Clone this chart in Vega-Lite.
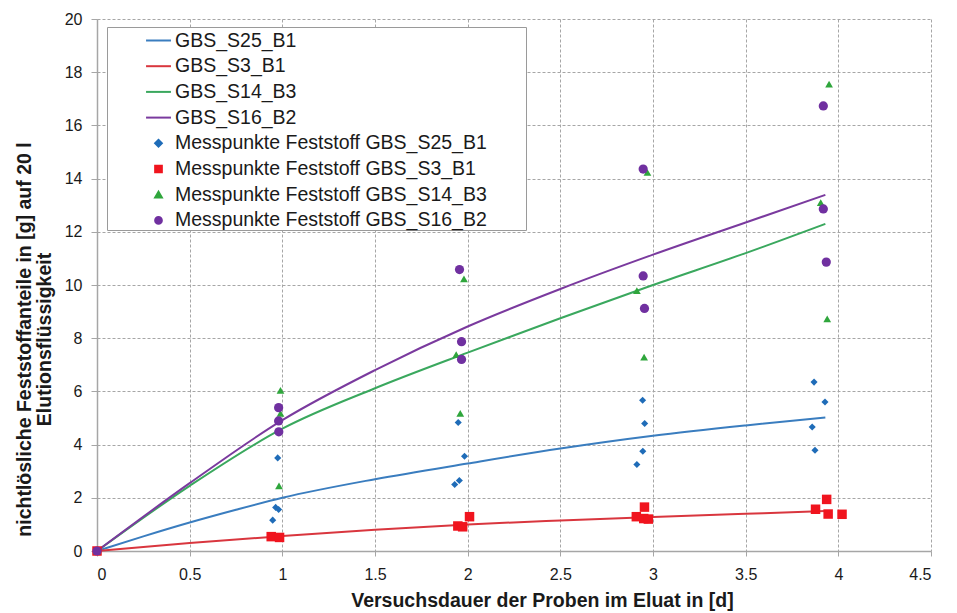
{
  "$schema": "https://vega.github.io/schema/vega-lite/v6.json",
  "width": 834,
  "height": 532,
  "autosize": {"type": "none"},
  "padding": {"left": 97, "top": 19, "right": 26, "bottom": 62},
  "background": "white",
  "config": {
    "view": {"stroke": null},
    "font": "Liberation Sans",
    "axis": {
      "grid": true,
      "gridDash": [3, 2],
      "gridColor": "#A6A6A6",
      "gridWidth": 1,
      "domainColor": "#A6A6A6",
      "domainWidth": 1.5,
      "tickColor": "#A6A6A6",
      "labelFont": "Liberation Sans",
      "labelFontSize": 16,
      "labelColor": "#1a1a1a",
      "titleFont": "Liberation Sans",
      "titleFontSize": 19.5,
      "titleFontWeight": "bold",
      "titleColor": "#1a1a1a"
    },
    "legend": {
      "orient": "none",
      "legendX": 10,
      "legendY": 8,
      "padding": 0,
      "symbolOffset": 38,
      "symbolSize": 620,
      "symbolStrokeWidth": 2,
      "rowPadding": 2.7,
      "labelOffset": 3,
      "labelFont": "Liberation Sans",
      "labelFontSize": 19.5,
      "labelColor": "#1a1a1a",
      "labelLimit": 600,
      "titleOrient": "right",
      "titleColor": "white",
      "titleFontSize": 10,
      "titlePadding": 36,
      "strokeColor": "#9A9A9A",
      "fillColor": "white"
    }
  },
  "datasets": {
    "curves": [
      {"series": "GBS_S25_B1", "t": 0, "v": 0},
      {"series": "GBS_S25_B1", "t": 0.25, "v": 0.55},
      {"series": "GBS_S25_B1", "t": 0.5, "v": 1.07},
      {"series": "GBS_S25_B1", "t": 0.75, "v": 1.55},
      {"series": "GBS_S25_B1", "t": 1.0, "v": 2.0},
      {"series": "GBS_S25_B1", "t": 1.5, "v": 2.7},
      {"series": "GBS_S25_B1", "t": 2.0, "v": 3.29},
      {"series": "GBS_S25_B1", "t": 2.5, "v": 3.85},
      {"series": "GBS_S25_B1", "t": 3.0, "v": 4.33},
      {"series": "GBS_S25_B1", "t": 3.5, "v": 4.72},
      {"series": "GBS_S25_B1", "t": 3.93, "v": 5.02},
      {"series": "GBS_S3_B1", "t": 0, "v": 0},
      {"series": "GBS_S3_B1", "t": 0.5, "v": 0.3},
      {"series": "GBS_S3_B1", "t": 1.0, "v": 0.56},
      {"series": "GBS_S3_B1", "t": 1.5, "v": 0.8},
      {"series": "GBS_S3_B1", "t": 2.0, "v": 1.0},
      {"series": "GBS_S3_B1", "t": 2.5, "v": 1.15},
      {"series": "GBS_S3_B1", "t": 3.0, "v": 1.28},
      {"series": "GBS_S3_B1", "t": 3.5, "v": 1.4},
      {"series": "GBS_S3_B1", "t": 3.93, "v": 1.5},
      {"series": "GBS_S14_B3", "t": 0, "v": 0},
      {"series": "GBS_S14_B3", "t": 0.5, "v": 2.45},
      {"series": "GBS_S14_B3", "t": 1.0, "v": 4.6},
      {"series": "GBS_S14_B3", "t": 1.5, "v": 6.12},
      {"series": "GBS_S14_B3", "t": 2.0, "v": 7.46},
      {"series": "GBS_S14_B3", "t": 2.5, "v": 8.75},
      {"series": "GBS_S14_B3", "t": 3.0, "v": 10.0},
      {"series": "GBS_S14_B3", "t": 3.5, "v": 11.2},
      {"series": "GBS_S14_B3", "t": 3.93, "v": 12.3},
      {"series": "GBS_S16_B2", "t": 0, "v": 0},
      {"series": "GBS_S16_B2", "t": 0.5, "v": 2.55},
      {"series": "GBS_S16_B2", "t": 1.0, "v": 4.92},
      {"series": "GBS_S16_B2", "t": 1.5, "v": 6.8},
      {"series": "GBS_S16_B2", "t": 2.0, "v": 8.44},
      {"series": "GBS_S16_B2", "t": 2.5, "v": 9.85},
      {"series": "GBS_S16_B2", "t": 3.0, "v": 11.14},
      {"series": "GBS_S16_B2", "t": 3.5, "v": 12.35},
      {"series": "GBS_S16_B2", "t": 3.93, "v": 13.39}
    ],
    "points": [
      {"series": "Messpunkte Feststoff GBS_S25_B1", "t": 0, "v": 0},
      {"series": "Messpunkte Feststoff GBS_S25_B1", "t": 0.975, "v": 3.5},
      {"series": "Messpunkte Feststoff GBS_S25_B1", "t": 0.964, "v": 1.64},
      {"series": "Messpunkte Feststoff GBS_S25_B1", "t": 0.98, "v": 1.56},
      {"series": "Messpunkte Feststoff GBS_S25_B1", "t": 0.948, "v": 1.16},
      {"series": "Messpunkte Feststoff GBS_S25_B1", "t": 1.949, "v": 4.83},
      {"series": "Messpunkte Feststoff GBS_S25_B1", "t": 1.983, "v": 3.56},
      {"series": "Messpunkte Feststoff GBS_S25_B1", "t": 1.93, "v": 2.5},
      {"series": "Messpunkte Feststoff GBS_S25_B1", "t": 1.955, "v": 2.65},
      {"series": "Messpunkte Feststoff GBS_S25_B1", "t": 2.944, "v": 5.67},
      {"series": "Messpunkte Feststoff GBS_S25_B1", "t": 2.955, "v": 4.79},
      {"series": "Messpunkte Feststoff GBS_S25_B1", "t": 2.945, "v": 3.75},
      {"series": "Messpunkte Feststoff GBS_S25_B1", "t": 2.913, "v": 3.25},
      {"series": "Messpunkte Feststoff GBS_S25_B1", "t": 3.869, "v": 6.35},
      {"series": "Messpunkte Feststoff GBS_S25_B1", "t": 3.928, "v": 5.6},
      {"series": "Messpunkte Feststoff GBS_S25_B1", "t": 3.859, "v": 4.66},
      {"series": "Messpunkte Feststoff GBS_S25_B1", "t": 3.874, "v": 3.79},
      {"series": "Messpunkte Feststoff GBS_S3_B1", "t": 0, "v": 0},
      {"series": "Messpunkte Feststoff GBS_S3_B1", "t": 0.94, "v": 0.54},
      {"series": "Messpunkte Feststoff GBS_S3_B1", "t": 0.985, "v": 0.51},
      {"series": "Messpunkte Feststoff GBS_S3_B1", "t": 1.947, "v": 0.94},
      {"series": "Messpunkte Feststoff GBS_S3_B1", "t": 1.973, "v": 0.91},
      {"series": "Messpunkte Feststoff GBS_S3_B1", "t": 2.01, "v": 1.29},
      {"series": "Messpunkte Feststoff GBS_S3_B1", "t": 2.91, "v": 1.29},
      {"series": "Messpunkte Feststoff GBS_S3_B1", "t": 2.95, "v": 1.22},
      {"series": "Messpunkte Feststoff GBS_S3_B1", "t": 2.975, "v": 1.2},
      {"series": "Messpunkte Feststoff GBS_S3_B1", "t": 2.954, "v": 1.65},
      {"series": "Messpunkte Feststoff GBS_S3_B1", "t": 3.877, "v": 1.57},
      {"series": "Messpunkte Feststoff GBS_S3_B1", "t": 3.937, "v": 1.94},
      {"series": "Messpunkte Feststoff GBS_S3_B1", "t": 3.945, "v": 1.39},
      {"series": "Messpunkte Feststoff GBS_S3_B1", "t": 4.02, "v": 1.38},
      {"series": "Messpunkte Feststoff GBS_S14_B3", "t": 0, "v": 0},
      {"series": "Messpunkte Feststoff GBS_S14_B3", "t": 0.99, "v": 6.04},
      {"series": "Messpunkte Feststoff GBS_S14_B3", "t": 0.99, "v": 5.17},
      {"series": "Messpunkte Feststoff GBS_S14_B3", "t": 0.982, "v": 2.45},
      {"series": "Messpunkte Feststoff GBS_S14_B3", "t": 1.98, "v": 10.23},
      {"series": "Messpunkte Feststoff GBS_S14_B3", "t": 1.938, "v": 7.38},
      {"series": "Messpunkte Feststoff GBS_S14_B3", "t": 1.96, "v": 5.17},
      {"series": "Messpunkte Feststoff GBS_S14_B3", "t": 2.97, "v": 14.23},
      {"series": "Messpunkte Feststoff GBS_S14_B3", "t": 2.913, "v": 9.79},
      {"series": "Messpunkte Feststoff GBS_S14_B3", "t": 2.952, "v": 7.29},
      {"series": "Messpunkte Feststoff GBS_S14_B3", "t": 3.95, "v": 17.55},
      {"series": "Messpunkte Feststoff GBS_S14_B3", "t": 3.905, "v": 13.1},
      {"series": "Messpunkte Feststoff GBS_S14_B3", "t": 3.94, "v": 8.73},
      {"series": "Messpunkte Feststoff GBS_S16_B2", "t": 0, "v": 0},
      {"series": "Messpunkte Feststoff GBS_S16_B2", "t": 0.98, "v": 5.39},
      {"series": "Messpunkte Feststoff GBS_S16_B2", "t": 0.98, "v": 4.89},
      {"series": "Messpunkte Feststoff GBS_S16_B2", "t": 0.981, "v": 4.48},
      {"series": "Messpunkte Feststoff GBS_S16_B2", "t": 1.956, "v": 10.58},
      {"series": "Messpunkte Feststoff GBS_S16_B2", "t": 1.967, "v": 7.87},
      {"series": "Messpunkte Feststoff GBS_S16_B2", "t": 1.967, "v": 7.2},
      {"series": "Messpunkte Feststoff GBS_S16_B2", "t": 2.947, "v": 14.36},
      {"series": "Messpunkte Feststoff GBS_S16_B2", "t": 2.947, "v": 10.34},
      {"series": "Messpunkte Feststoff GBS_S16_B2", "t": 2.954, "v": 9.12},
      {"series": "Messpunkte Feststoff GBS_S16_B2", "t": 3.919, "v": 16.73},
      {"series": "Messpunkte Feststoff GBS_S16_B2", "t": 3.919, "v": 12.86},
      {"series": "Messpunkte Feststoff GBS_S16_B2", "t": 3.935, "v": 10.86}
    ]
  },
  "layer": [
    {
      "data": {"name": "curves"},
      "mark": {"type": "line", "strokeWidth": 2, "interpolate": "monotone"},
      "encoding": {
        "x": {
          "field": "t", "type": "quantitative",
          "scale": {"domain": [0, 4.5], "nice": false, "zero": false},
          "axis": {
            "values": [0, 0.5, 1, 1.5, 2, 2.5, 3, 3.5, 4, 4.5],
            "format": "~g",
            "tickSize": 5,
            "labelPadding": 10,
            "title": "Versuchsdauer der Proben im Eluat in [d]",
            "titleX": 445,
            "titleY": 49,
            "titleBaseline": "middle",
            "titleAlign": "center"
          }
        },
        "y": {
          "field": "v", "type": "quantitative",
          "scale": {"domain": [0, 20], "nice": false},
          "axis": {
            "values": [0, 2, 4, 6, 8, 10, 12, 14, 16, 18, 20],
            "tickSize": 6,
            "labelPadding": 9,
            "title": ["nichtlösliche  Feststoffanteile in [g] auf 20 l", "Elutionsflüssigkeit"],
            "titleX": -82,
            "titleY": 320,
            "titleAngle": -90,
            "titleAlign": "center",
            "titleBaseline": "top",
            "titleLineHeight": 20
          }
        },
        "color": {
          "field": "series", "type": "nominal",
          "scale": {
            "domain": ["GBS_S25_B1", "GBS_S3_B1", "GBS_S14_B3", "GBS_S16_B2", "Messpunkte Feststoff GBS_S25_B1", "Messpunkte Feststoff GBS_S3_B1", "Messpunkte Feststoff GBS_S14_B3", "Messpunkte Feststoff GBS_S16_B2"],
            "range": ["#3A7DBF", "#D9363E", "#3AA85E", "#7A3A9E", "#1F6CB8", "#F0141E", "#2FA63C", "#7030A0"]
          },
          "legend": {
            "title": ".",
            "encode": {
              "symbols": {
                "update": {
                  "size": {"signal": "datum.index >= 4 ? 45 : 620"}
                }
              }
            }
          }
        }
      }
    },
    {
      "data": {"name": "points"},
      "transform": [{"filter": "datum.series === 'Messpunkte Feststoff GBS_S25_B1'"}],
      "mark": {"type": "point", "filled": true, "opacity": 1, "size": 50},
      "encoding": {
        "x": {"field": "t", "type": "quantitative"},
        "y": {"field": "v", "type": "quantitative"},
        "color": {"field": "series", "type": "nominal"},
        "shape": {
          "field": "series", "type": "nominal",
          "scale": {
            "domain": ["GBS_S25_B1", "GBS_S3_B1", "GBS_S14_B3", "GBS_S16_B2", "Messpunkte Feststoff GBS_S25_B1", "Messpunkte Feststoff GBS_S3_B1", "Messpunkte Feststoff GBS_S14_B3", "Messpunkte Feststoff GBS_S16_B2"],
            "range": ["stroke", "stroke", "stroke", "stroke", "diamond", "square", "triangle-up", "circle"]
          },
          "legend": {"title": "."}
        }
      }
    },
    {
      "data": {"name": "points"},
      "transform": [{"filter": "datum.series === 'Messpunkte Feststoff GBS_S3_B1'"}],
      "mark": {"type": "point", "filled": true, "opacity": 1, "size": 90},
      "encoding": {
        "x": {"field": "t", "type": "quantitative"},
        "y": {"field": "v", "type": "quantitative"},
        "color": {"field": "series", "type": "nominal"},
        "shape": {"field": "series", "type": "nominal"}
      }
    },
    {
      "data": {"name": "points"},
      "transform": [{"filter": "datum.series === 'Messpunkte Feststoff GBS_S14_B3'"}],
      "mark": {"type": "point", "filled": true, "opacity": 1, "size": 60},
      "encoding": {
        "x": {"field": "t", "type": "quantitative"},
        "y": {"field": "v", "type": "quantitative"},
        "color": {"field": "series", "type": "nominal"},
        "shape": {"field": "series", "type": "nominal"}
      }
    },
    {
      "data": {"name": "points"},
      "transform": [{"filter": "datum.series === 'Messpunkte Feststoff GBS_S16_B2'"}],
      "mark": {"type": "point", "filled": true, "opacity": 1, "size": 85},
      "encoding": {
        "x": {"field": "t", "type": "quantitative"},
        "y": {"field": "v", "type": "quantitative"},
        "color": {"field": "series", "type": "nominal"},
        "shape": {"field": "series", "type": "nominal"}
      }
    }
  ]
}
